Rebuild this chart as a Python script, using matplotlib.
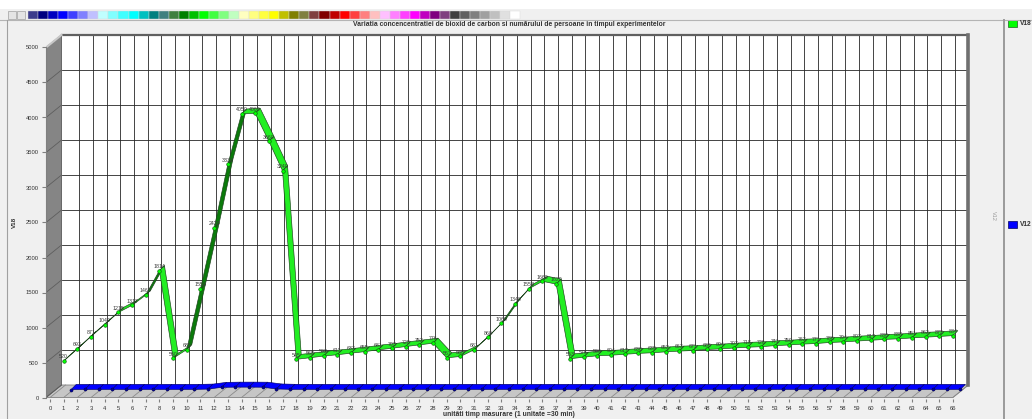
import numpy as np
import matplotlib.pyplot as plt
from matplotlib.patches import Polygon, Rectangle

plt.rcParams['font.family'] = ['Liberation Sans', 'DejaVu Sans']

# ---- date ----
units = list(range(1, 67))
v18 = [520, 693, 871, 1042, 1215, 1317, 1463, 1814, 560, 685,
       1550, 2420, 3330, 4050, 4060, 3660, 3240, 545, 568, 592,
       611, 633, 655, 681, 703, 728, 752, 776, 567, 586,
       681, 860, 1060, 1340, 1553, 1660, 1620, 553, 576, 596,
       604, 617, 630, 639, 652, 663, 671, 686, 694, 707,
       718, 726, 741, 750, 763, 771, 786, 794, 807, 817,
       830, 838, 851, 862, 872, 884]
v12 = [14, 15, 15, 16, 15, 16, 15, 16, 15, 16,
       20, 45, 48, 48, 47, 22, 17, 16, 15, 16,
       15, 16, 15, 16, 16, 15, 16, 15, 16, 16,
       15, 16, 16, 15, 16, 16, 15, 16, 15, 16,
       16, 15, 16, 15, 16, 16, 15, 16, 15, 16,
       16, 15, 16, 16, 15, 16, 15, 16, 16, 15,
       16, 15, 16, 16, 15, 16]
y_ticks = list(range(0, 5001, 500))
x_ticks = list(range(0, 67))

title = "Variatia concencentratiei de bioxid de carbon si numărului de persoane in timpul experimentelor"
xlabel = "unitǎti timp masurare (1 unitate =30 min)"

palette = ['#3c3c8c', '#000080', '#0000c0', '#0000ff', '#4040ff', '#8080ff', '#c0c0ff',
           '#c0ffff', '#80ffff', '#40ffff', '#00ffff', '#00c0c0', '#008080', '#408080',
           '#408040', '#008000', '#00c000', '#00ff00', '#40ff40', '#80ff80', '#c0ffc0',
           '#ffffc0', '#ffff80', '#ffff40', '#ffff00', '#c0c000', '#808000', '#808040',
           '#804040', '#800000', '#c00000', '#ff0000', '#ff4040', '#ff8080', '#ffc0c0',
           '#ffc0ff', '#ff80ff', '#ff40ff', '#ff00ff', '#c000c0', '#800080', '#804080',
           '#404040', '#606060', '#808080', '#a0a0a0', '#c0c0c0', '#e0e0e0', '#ffffff']

W, H = 1032, 419
fig = plt.figure(figsize=(W / 100, H / 100), dpi=100)
fig.patch.set_facecolor('#f0f0f0')


def fx(px):
    return px / W


def fy(py):
    return 1 - py / H


def frect(x, y, w, h, **kw):
    fig.patches.append(Rectangle((fx(x), fy(y + h)), w / W, h / H,
                                 transform=fig.transFigure, **kw))


def fline(xs, ys, **kw):
    fig.add_artist(plt.Line2D([fx(v) for v in xs], [fy(v) for v in ys], **kw))


# bara de culori de sus
frect(0, 0, W, 9, facecolor='white', edgecolor='none')
frect(8, 11, 8, 8, facecolor='#e4e4e4', edgecolor='#a0a0a0', lw=0.5)
frect(17, 11, 8, 8, facecolor='#e4e4e4', edgecolor='#a0a0a0', lw=0.5)
for k, c in enumerate(palette):
    frect(28 + k * 10.05, 11, 10.05, 8, facecolor=c, edgecolor='#d8d8d8', lw=0.3)
fline([0, W], [20, 20], color='#b4b4b4', lw=0.8)
fline([7, 7], [20, H], color='#a0a0a0', lw=0.8)
fline([1004, 1004], [20, H], color='#9a9a9a', lw=1.4)

fig.text(fx(509), fy(24), title, fontsize=4.9, fontweight='bold', color='#333333',
         ha='center', va='center')
fig.text(fx(509), fy(414), xlabel, fontsize=4.9, fontweight='bold', color='#333333',
         ha='center', va='center')
fig.text(fx(14), fy(222), 'V18', fontsize=4.5, fontweight='bold', color='#333333',
         rotation=90, ha='center', va='center')
fig.text(fx(993), fy(216), 'V12', fontsize=4, color='#999999',
         rotation=270, ha='center', va='center')

# legenda
frect(1008, 20, 9, 7, facecolor='#00ff00', edgecolor='#206020', lw=0.5)
fig.text(fx(1020), fy(23.5), 'V18', fontsize=4.8, fontweight='bold', color='#333333', va='center')
frect(1008, 221, 9, 7, facecolor='#0000ff', edgecolor='#000060', lw=0.5)
fig.text(fx(1020), fy(224.5), 'V12', fontsize=4.8, fontweight='bold', color='#333333', va='center')

# ---- zona graficului 3D ----
SX, SY = 13.68, 0.07            # pixeli pe unitate
left_px, right_px, top_px, bot_px = 46, 975, 30, 399
ax = fig.add_axes([fx(left_px), fy(bot_px), (right_px - left_px) / W, (bot_px - top_px) / H])
ax.set_xlim((left_px - 50) / SX, (right_px - 50) / SX)
ax.set_ylim((397.5 - bot_px) / SY, (397.5 - top_px) / SY)
ax.set_facecolor('none')

DX, DY = 15.5 / SX, 12.5 / SY    # adancime perete
x0 = (left_px - 50) / SX
xmax = 66
ymax = 5000

# perete spate
ax.add_patch(Rectangle((x0 + DX, DY), xmax - x0, ymax, facecolor='white', edgecolor='none', zorder=0))
for i in x_ticks[1:-1]:
    ax.plot([i + DX, i + DX], [DY, ymax + DY], color='#262626', lw=0.6, zorder=1)
for v in y_ticks[1:-1]:
    ax.plot([x0 + DX, xmax + DX], [v + DY, v + DY], color='#262626', lw=0.6, zorder=1)
ax.plot([x0 + DX, xmax + DX], [ymax + DY, ymax + DY], color='#606060', lw=1.6, zorder=2)
ax.plot([xmax + DX, xmax + DX], [DY, ymax + DY], color='#707070', lw=2.6, zorder=2)

# podea
ax.add_patch(Polygon([(x0, 0), (xmax, 0), (xmax + DX, DY), (x0 + DX, DY)],
                     facecolor='#c6c6c6', edgecolor='#808080', lw=0.6, zorder=1))
for i in x_ticks:
    ax.plot([i, i + DX], [0, DY], color='#8a8a8a', lw=0.6, zorder=1)

# perete stanga
ax.add_patch(Polygon([(x0, 0), (x0, ymax), (x0 + DX, ymax + DY), (x0 + DX, DY)],
                     facecolor='#858585', edgecolor='#5a5a5a', lw=0.6, zorder=1))
for v in y_ticks:
    ax.plot([x0, x0 + DX], [v, v + DY], color='#5e5e5e', lw=0.6, zorder=1)
ax.plot([x0, x0 + DX], [ymax, ymax + DY], color='#c8c8c8', lw=1.5, zorder=2)


def ribbon(xs, ys, ox, oy, bright, dark, edge, z):
    dx, dy = 5 / SX, 5 / SY
    xs = np.asarray(xs, float) + ox
    ys = np.asarray(ys, float) + oy
    for k in range(len(xs) - 1):
        a = (xs[k], ys[k])
        b = (xs[k + 1], ys[k + 1])
        rise = (b[1] - a[1]) * SY
        run = (b[0] - a[0]) * SX
        col = dark if rise > run else bright
        ax.add_patch(Polygon([a, b, (b[0] + dx, b[1] + dy), (a[0] + dx, a[1] + dy)],
                             facecolor=col, edgecolor=edge, lw=0.45, zorder=z))
    return xs, ys


gx, gy = ribbon(units, v18, 0, 0, '#22ee22', '#0b7a0b', '#1c401c', 3)
ax.plot(gx, gy, 'o', ms=2.6, mfc='#00ff00', mec='#105010', mew=0.4, zorder=4)
for x, v in zip(gx, v18):
    ax.text(x, v + 25, str(v), fontsize=3.8, color='#3a3a3a', ha='center', va='bottom', zorder=5)

bx, by = ribbon(units, v12, 7.5 / SX, 100, '#0000ff', '#0000b0', '#000070', 3)
ax.plot(bx, by, 'o', ms=2.2, mfc='#0000a0', mec='#000050', mew=0.4, zorder=4)

# axe
for s in ['top', 'right', 'bottom']:
    ax.spines[s].set_visible(False)
ax.spines['left'].set_color('#808080')
ax.spines['left'].set_bounds(0, ymax)
ax.set_xticks(x_ticks)
ax.set_xticklabels([str(i) for i in x_ticks])
ax.set_yticks(y_ticks)
ax.set_yticklabels([str(v) for v in y_ticks])
ax.tick_params(axis='x', length=2, pad=3, labelsize=4.2, colors='#808080', labelcolor='#333333')
ax.tick_params(axis='y', length=3, pad=2, labelsize=4.2, colors='#808080', labelcolor='#333333')

fig.savefig('out.png', dpi=100, facecolor=fig.get_facecolor())
